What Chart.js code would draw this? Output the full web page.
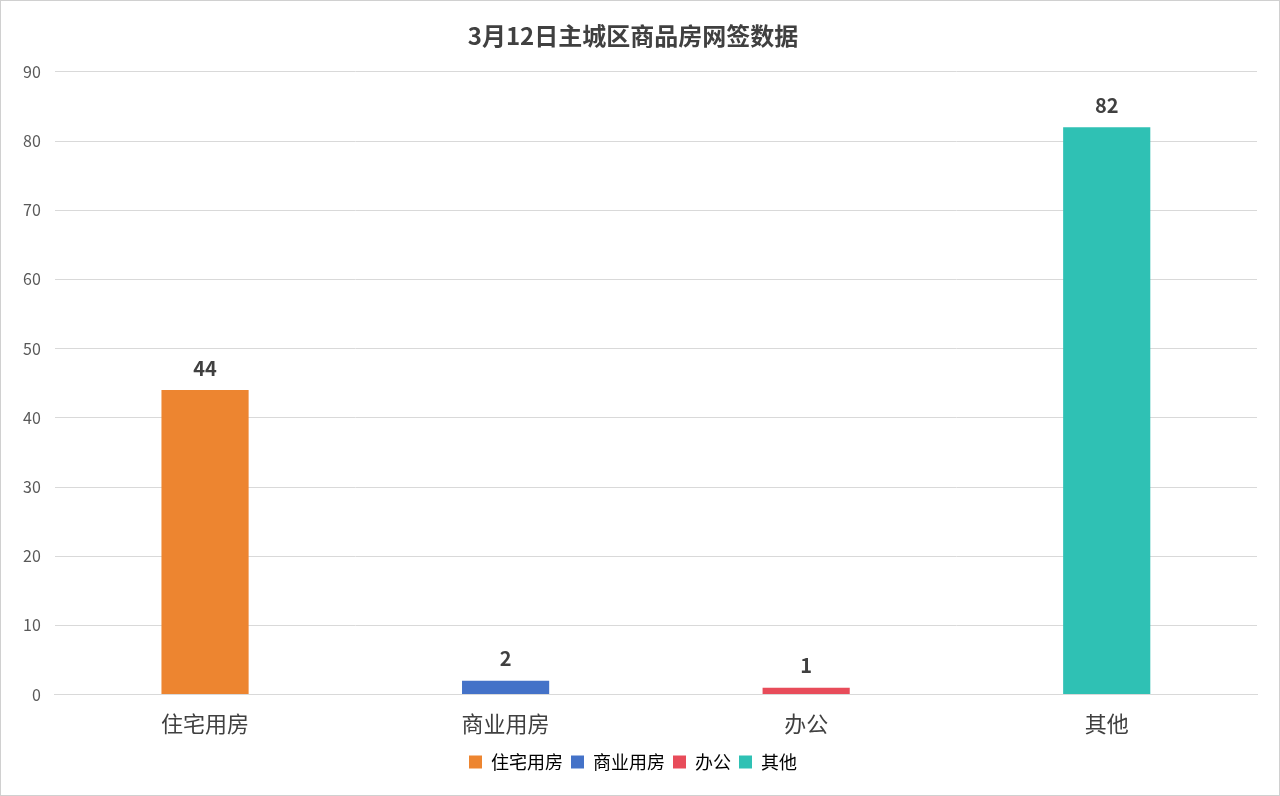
<!DOCTYPE html>
<html><head><meta charset="utf-8">
<script src="https://cdn.jsdelivr.net/npm/chart.js@4/dist/chart.umd.min.js"></script>
<style>
html,body{margin:0;padding:0;background:#fff;}
#wrap{position:absolute;left:0;top:0;width:1278px;height:794px;border:1px solid #d0d0d0;}
</style></head><body>
<div id="wrap"><canvas id="c" width="1278" height="794"></canvas></div>
<script>
const categories = ['住宅用房','商业用房','办公','其他'];
const values = [44, 2, 1, 82];
const colors = ['#ED8530','#4472C8','#E84C5A','#2FC1B4'];
const yTicks = [0,10,20,30,40,50,60,70,80,90];
const font = '"Noto Sans CJK SC","Noto Sans",sans-serif';

const labelPlugin = {
  id:'vals',
  afterDatasetsDraw(chart){
    const ctx = chart.ctx;
    const meta = chart.getDatasetMeta(0);
    ctx.save();
    ctx.font = 'bold 20px ' + font;
    ctx.fillStyle = '#404040';
    ctx.textAlign = 'center';
    ctx.textBaseline = 'bottom';
    meta.data.forEach((b,i)=>{ ctx.fillText(String(values[i]), b.x, b.y - 12); });
    ctx.restore();
  }
};

new Chart(document.getElementById('c'), {
  type:'bar',
  data:{labels:categories, datasets:[{data:values, backgroundColor:colors, barPercentage:0.29, categoryPercentage:1}]},
  options:{
    responsive:false, animation:false,
    layout:{padding:{left:8,right:22,top:8,bottom:14}},
    plugins:{
      title:{display:true,text:'3月12日主城区商品房网签数据',color:'#404040',font:{family:font,size:24,weight:'bold'},padding:{top:12,bottom:22}},
      legend:{position:'bottom',labels:{
        font:{family:font,size:18},color:'#404040',boxWidth:13,boxHeight:13,padding:8,
        generateLabels(){return categories.map((c,i)=>({text:c,fillStyle:colors[i],strokeStyle:colors[i],lineWidth:0,index:i}));}
      }},
      tooltip:{enabled:false}
    },
    scales:{
      y:{min:0,max:90,afterBuildTicks(s){s.ticks=yTicks.map(v=>({value:v}));},
        ticks:{color:'#595959',font:{family:font,size:16},padding:14},
        grid:{color:'#d9d9d9',drawTicks:false},border:{display:false}},
      x:{ticks:{color:'#404040',font:{family:font,size:22},padding:8},
        grid:{display:false},border:{color:'#d9d9d9'}}
    }
  },
  plugins:[labelPlugin]
});
</script></body></html>
